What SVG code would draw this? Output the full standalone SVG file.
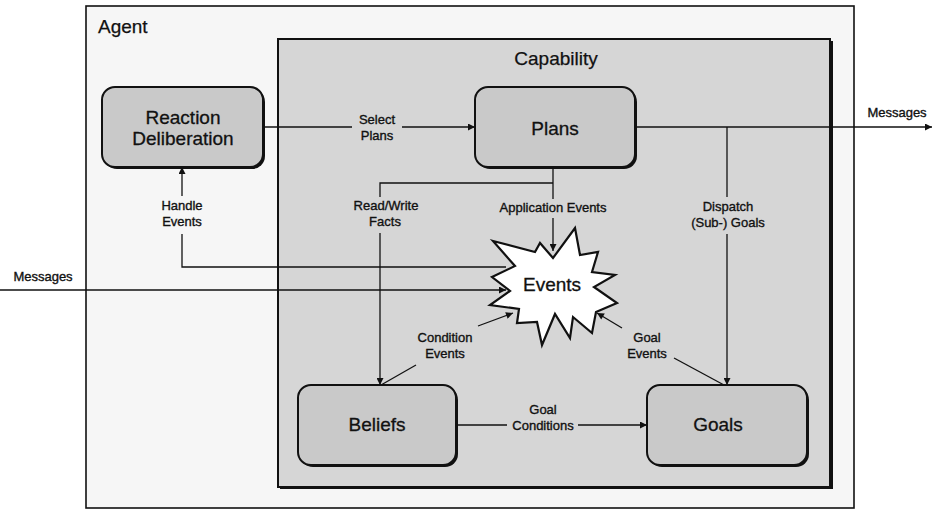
<svg xmlns="http://www.w3.org/2000/svg" width="934" height="510" viewBox="0 0 934 510">
  <defs>
    <marker id="arr" viewBox="0 0 10 10" refX="10" refY="5" markerWidth="9" markerHeight="7" markerUnits="userSpaceOnUse" orient="auto">
      <path d="M0,0 L10,5 L0,10 z" fill="#111"/>
    </marker>
    <style>
      .frame { fill: #f6f6f6; stroke: #111; stroke-width: 1.6; }
      .cap { fill: #d6d6d6; stroke: #111; stroke-width: 2; }
      .shadow { fill: #111; }
      .box { fill: #c9c9c9; stroke: #111; stroke-width: 2; }
      .big { font-family: "Liberation Sans", Arial, sans-serif; font-size: 19px; fill: #111; stroke: #111; stroke-width: 0.25; }
      .lbl { font-family: "Liberation Sans", Arial, sans-serif; font-size: 13px; fill: #111; stroke: #111; stroke-width: 0.35; text-anchor: middle; }
      .node { font-family: "Liberation Sans", Arial, sans-serif; font-size: 19px; fill: #111; stroke: #111; stroke-width: 0.3; text-anchor: middle; }
      .ln { fill: none; stroke: #111; stroke-width: 1.3; }
    </style>
  </defs>
  <rect width="934" height="510" fill="#ffffff"/>

  <g id="agent">
    <rect class="frame" x="86" y="6" width="768" height="502"/>
    <text class="big" x="98" y="33">Agent</text>
  </g>

  <g id="capability">
    <rect class="shadow" x="280" y="41" width="553" height="448"/>
    <rect class="cap" x="278" y="39" width="552" height="448"/>
    <text class="big" x="556" y="65" text-anchor="middle">Capability</text>
  </g>

  <g id="reaction">
    <rect class="shadow" x="104" y="89" width="161" height="80" rx="13"/>
    <rect class="box" x="102" y="87" width="161" height="80" rx="13"/>
    <text class="node" x="183" y="124">Reaction</text>
    <text class="node" x="183" y="145">Deliberation</text>
  </g>

  <g id="plans">
    <rect class="shadow" x="477" y="89" width="160" height="80" rx="13"/>
    <rect class="box" x="475" y="87" width="160" height="80" rx="13"/>
    <text class="node" x="555" y="135">Plans</text>
  </g>

  <g id="beliefs">
    <rect class="shadow" x="300" y="387" width="158" height="80" rx="13"/>
    <rect class="box" x="298" y="385" width="158" height="80" rx="13"/>
    <text class="node" x="377" y="431">Beliefs</text>
  </g>

  <g id="goals">
    <rect class="shadow" x="649" y="387" width="160" height="80" rx="13"/>
    <rect class="box" x="647" y="385" width="160" height="80" rx="13"/>
    <text class="node" x="718" y="431">Goals</text>
  </g>

  <g id="events">
    <polygon points="493,241 535,252 540,243 553,258 575,228 580,255 598,252 592,272 615,275 594,287 617,303 596,312 592,333 573,317 570,338 555,314 542,345 537,322 517,323 519,309 490,305 510,291 492,277 515,266" fill="#ffffff" stroke="#111" stroke-width="2.2" stroke-linejoin="miter"/>
    <text class="node" x="552" y="291">Events</text>
  </g>

  <g id="connectors">
    <!-- Select Plans -->
    <path class="ln" d="M263,127 H352"/>
    <path class="ln" d="M402,127 H475" marker-end="url(#arr)"/>
    <text class="lbl" x="377" y="124">Select</text>
    <text class="lbl" x="377" y="140">Plans</text>

    <!-- Messages out -->
    <path class="ln" d="M635,127 H932" marker-end="url(#arr)"/>
    <text class="lbl" x="897" y="117">Messages</text>

    <!-- Dispatch (Sub-) Goals -->
    <path class="ln" d="M727,127 V197"/>
    <path class="ln" d="M727,234 V385" marker-end="url(#arr)"/>
    <text class="lbl" x="728" y="211">Dispatch</text>
    <text class="lbl" x="728" y="227">(Sub-) Goals</text>

    <!-- Application Events -->
    <path class="ln" d="M553,167 V199"/>
    <path class="ln" d="M553,218 V251" marker-end="url(#arr)"/>
    <text class="lbl" x="553" y="212">Application Events</text>

    <!-- Read/Write Facts -->
    <path class="ln" d="M553,183 H380 V197"/>
    <path class="ln" d="M380,233 V385" marker-end="url(#arr)"/>
    <text class="lbl" x="386" y="210">Read/Write</text>
    <text class="lbl" x="385" y="226">Facts</text>

    <!-- Handle Events -->
    <path class="ln" d="M506,267 H182 V234"/>
    <path class="ln" d="M182,196 V167" marker-end="url(#arr)"/>
    <text class="lbl" x="182" y="210">Handle</text>
    <text class="lbl" x="182" y="226">Events</text>

    <!-- Messages in -->
    <path class="ln" d="M0,290 H506" marker-end="url(#arr)"/>
    <text class="lbl" x="43" y="281">Messages</text>

    <!-- Condition Events -->
    <path class="ln" d="M381,385 L416,365"/>
    <path class="ln" d="M478,326 L513,313" marker-end="url(#arr)"/>
    <text class="lbl" x="445" y="342">Condition</text>
    <text class="lbl" x="445" y="358">Events</text>

    <!-- Goal Events -->
    <path class="ln" d="M724,385 L674,358"/>
    <path class="ln" d="M622,328 L597,313" marker-end="url(#arr)"/>
    <text class="lbl" x="647" y="342">Goal</text>
    <text class="lbl" x="647" y="358">Events</text>

    <!-- Goal Conditions -->
    <path class="ln" d="M456,425 H507"/>
    <path class="ln" d="M578,425 H647" marker-end="url(#arr)"/>
    <text class="lbl" x="543" y="414">Goal</text>
    <text class="lbl" x="543" y="430">Conditions</text>
  </g>
</svg>
